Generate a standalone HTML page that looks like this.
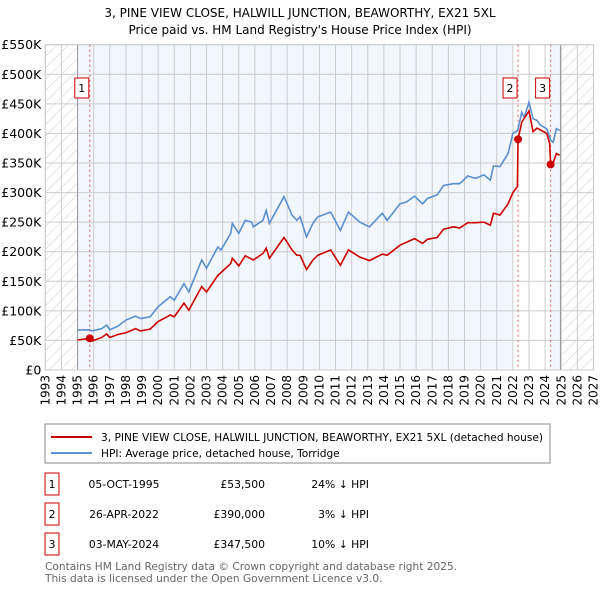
<!DOCTYPE html>
<html><head><meta charset="utf-8"><style>
body{margin:0;background:#fff;font-family:"Liberation Sans","DejaVu Sans",sans-serif;}
svg text{font-family:"DejaVu Sans","Liberation Sans",sans-serif;}
</style></head><body>
<svg id="chart" width="600" height="590" viewBox="0 0 600 590" xmlns="http://www.w3.org/2000/svg">
<defs><pattern id="hatch" patternUnits="userSpaceOnUse" width="8" height="8" patternTransform="rotate(45)"><line x1="0" y1="0" x2="0" y2="8" stroke="#ccc" stroke-width="1"/></pattern></defs>
<text x="300" y="17" text-anchor="middle" font-size="12">3, PINE VIEW CLOSE, HALWILL JUNCTION, BEAWORTHY, EX21 5XL</text>
<text x="300" y="34" text-anchor="middle" font-size="12">Price paid vs. HM Land Registry's House Price Index (HPI)</text>
<g id="plot"></g>
<g id="legend">
<rect x="45" y="424" width="505" height="39" fill="#fff" stroke="#888"/>
<line x1="51" y1="437" x2="92" y2="437" stroke="#cc0000" stroke-width="2"/>
<text x="101" y="441" font-size="10.6">3, PINE VIEW CLOSE, HALWILL JUNCTION, BEAWORTHY, EX21 5XL (detached house)</text>
<line x1="51" y1="453" x2="92" y2="453" stroke="#5b8fd0" stroke-width="2"/>
<text x="101" y="457" font-size="10.6">HPI: Average price, detached house, Torridge</text>
</g>
<g id="table" font-size="10.8"></g>
<text x="45" y="570" font-size="10.6" fill="#666">Contains HM Land Registry data © Crown copyright and database right 2025.</text>
<text x="45" y="582" font-size="10.6" fill="#666">This data is licensed under the Open Government Licence v3.0.</text>
</svg>
<script>
const hpiYears=[1995.0,1995.75,1995.9,1996.5,1996.8,1997.0,1997.5,1998.0,1998.6,1998.9,1999.5,2000.0,2000.75,2001.0,2001.6,2001.9,2002.7,2003.0,2003.7,2003.9,2004.5,2004.6,2005.0,2005.4,2005.8,2005.9,2006.5,2006.7,2006.9,2007.8,2008.0,2008.3,2008.6,2008.8,2009.2,2009.6,2009.9,2010.7,2011.3,2011.8,2012.5,2013.1,2013.9,2014.2,2015.0,2015.4,2015.9,2016.4,2016.7,2017.3,2017.7,2018.3,2018.7,2019.2,2019.7,2020.2,2020.6,2020.8,2021.2,2021.7,2022.0,2022.3,2022.55,2022.7,2023.0,2023.25,2023.5,2023.7,2024.1,2024.35,2024.5,2024.7,2024.9];
const hpiValues=[67.6,68,66,70,76,68,74,84.5,91,87,90,107,124,118,146,132,186,172,208,203,231,248,231,253,250,242,253,270,248,293,281,262,253,259,225,248,259,267,236,267,250,242,265,253,281,284,294,281,290,296,312,315,315,328,324,330,321,345,344,366,400,405,436,427,453,425,422,414,408,388,385,408,405];
const ppYears=[1995.0,1995.76,1995.9,1996.5,1996.8,1997.0,1997.5,1998.0,1998.6,1998.9,1999.5,2000.0,2000.75,2001.0,2001.6,2001.9,2002.7,2003.0,2003.7,2004.5,2004.6,2005.0,2005.4,2005.9,2006.5,2006.7,2006.9,2007.8,2008.0,2008.3,2008.6,2008.8,2009.2,2009.6,2009.9,2010.7,2011.3,2011.8,2012.5,2013.1,2013.9,2014.2,2015.0,2015.9,2016.4,2016.7,2017.3,2017.7,2018.3,2018.7,2019.2,2019.7,2020.2,2020.6,2020.8,2021.2,2021.7,2022.0,2022.28,2022.32,2022.55,2023.0,2023.25,2023.5,2023.7,2024.1,2024.28,2024.34,2024.5,2024.7,2024.9];
const ppValues=[50.7,53.5,49,55,61,55,60,63,70,66,69,82,93,90,113,101,141,132,160,180,189,176,193,186,197,206,189,224,216,203,194,194,170,186,194,203,177,203,191,185,196,194,211,222,214,221,224,238,242,240,249,249,250,245,265,262,281,300,310,390,419,438,403,409,406,400,383,347.5,350,366,363];
const saleYears=[1995.76,2022.32,2024.34];
const saleValues=[53.5,390,347.5];
const saleLabels=["1","2","3"];
const saleDates=["05-OCT-1995","26-APR-2022","03-MAY-2024"];
const salePrices=["£53,500","£390,000","£347,500"];
const saleDiffs=["24% ↓ HPI","3% ↓ HPI","10% ↓ HPI"];
const yTicks=[0,50,100,150,200,250,300,350,400,450,500,550];
const yTickLabels=["£0","£50K","£100K","£150K","£200K","£250K","£300K","£350K","£400K","£450K","£500K","£550K"];
const xTicks=[1993,1994,1995,1996,1997,1998,1999,2000,2001,2002,2003,2004,2005,2006,2007,2008,2009,2010,2011,2012,2013,2014,2015,2016,2017,2018,2019,2020,2021,2022,2023,2024,2025,2026,2027];

const NS="http://www.w3.org/2000/svg";
const L=45.3,R=593.5,T=44.7,B=370;
const x=y=>L+(y-1993)/(2027-1993)*(R-L);
const yS=v=>B-v/550*(B-T);
const plot=document.getElementById('plot');
function mk(tag,attrs,parent){const e=document.createElementNS(NS,tag);for(const k in attrs)e.setAttribute(k,attrs[k]);(parent||plot).appendChild(e);return e;}
mk('rect',{x:L,y:T,width:R-L,height:B-T,fill:'#fff'});
let bg=mk('rect',{x:x(1995),y:T,width:x(2022)-x(1995),height:B-T,fill:'#f2f6fd'});


mk('rect',{x:x(2024.35),y:T,width:x(2024.95)-x(2024.35),height:B-T,fill:'#f2f6fd'});
mk('rect',{x:L,y:T,width:x(1995)-L,height:B-T,fill:'url(#hatch)'});
mk('rect',{x:x(2024.95),y:T,width:R-x(2024.95),height:B-T,fill:'url(#hatch)'});
xTicks.forEach(t=>{mk('line',{x1:x(t),y1:T,x2:x(t),y2:B,stroke:'#ccc','stroke-width':1});
 const tx=mk('text',{x:0,y:0,'font-size':12,'text-anchor':'end',transform:`translate(${x(t)+4},${B+5}) rotate(-90)`});
 tx.textContent=t;
 
 });
yTicks.forEach((t,i)=>{mk('line',{x1:L,y1:yS(t),x2:R,y2:yS(t),stroke:'#ccc','stroke-width':1});
 const tx=mk('text',{x:L-4,y:yS(t)+4.5,'font-size':12.5,'text-anchor':'end'});
 tx.textContent=yTickLabels[i];
 
 });
mk('line',{x1:x(1995),y1:T,x2:x(1995),y2:B,stroke:'#999'});
mk('line',{x1:x(2024.95),y1:T,x2:x(2024.95),y2:B,stroke:'#999'});
mk('rect',{x:L,y:T,width:R-L,height:B-T,fill:'none',stroke:'#ccc'});
saleYears.forEach((s,i)=>{mk('line',{x1:x(s),y1:T,x2:x(s),y2:B,stroke:'#e06060','stroke-dasharray':'2,3','stroke-width':1});});
let hp=mk('polyline',{points:hpiYears.map((t,i)=>x(t)+','+yS(hpiValues[i])).join(' '),fill:'none',stroke:'#5b8fd0','stroke-width':1.6});


let pp=mk('polyline',{points:ppYears.map((t,i)=>x(t)+','+yS(ppValues[i])).join(' '),fill:'none',stroke:'#cc0000','stroke-width':1.6});


saleYears.forEach((s,i)=>{
 const c=mk('circle',{cx:x(s),cy:yS(saleValues[i]),r:4,fill:'#cc0000'});
 
 
 const bx=x(s)-15;
 const r=mk('rect',{x:bx,y:78,width:14,height:20,fill:'#fff',stroke:'#cc0000'});
 
 
 const t=mk('text',{x:bx+7,y:92,'font-size':11,'text-anchor':'middle'});t.textContent=saleLabels[i];});
const tb=document.getElementById('table');
const rowsY=[486,516,546];
saleLabels.forEach((lab,i)=>{
 const yy=rowsY[i];
 const g=mk('g',{},tb);
 
 
 mk('rect',{x:45,y:yy-13,width:14,height:22,fill:'#fff',stroke:'#cc0000'},g);
 let t=mk('text',{x:52,y:yy+2,'text-anchor':'middle'},g);t.textContent=lab;
 t=mk('text',{x:124,y:yy+2,'text-anchor':'middle'},g);t.textContent=saleDates[i];
 t=mk('text',{x:265,y:yy+2,'text-anchor':'end'},g);t.textContent=salePrices[i];
 t=mk('text',{x:369,y:yy+2,'text-anchor':'end'},g);t.textContent=saleDiffs[i];
});
</script>
</body></html>
